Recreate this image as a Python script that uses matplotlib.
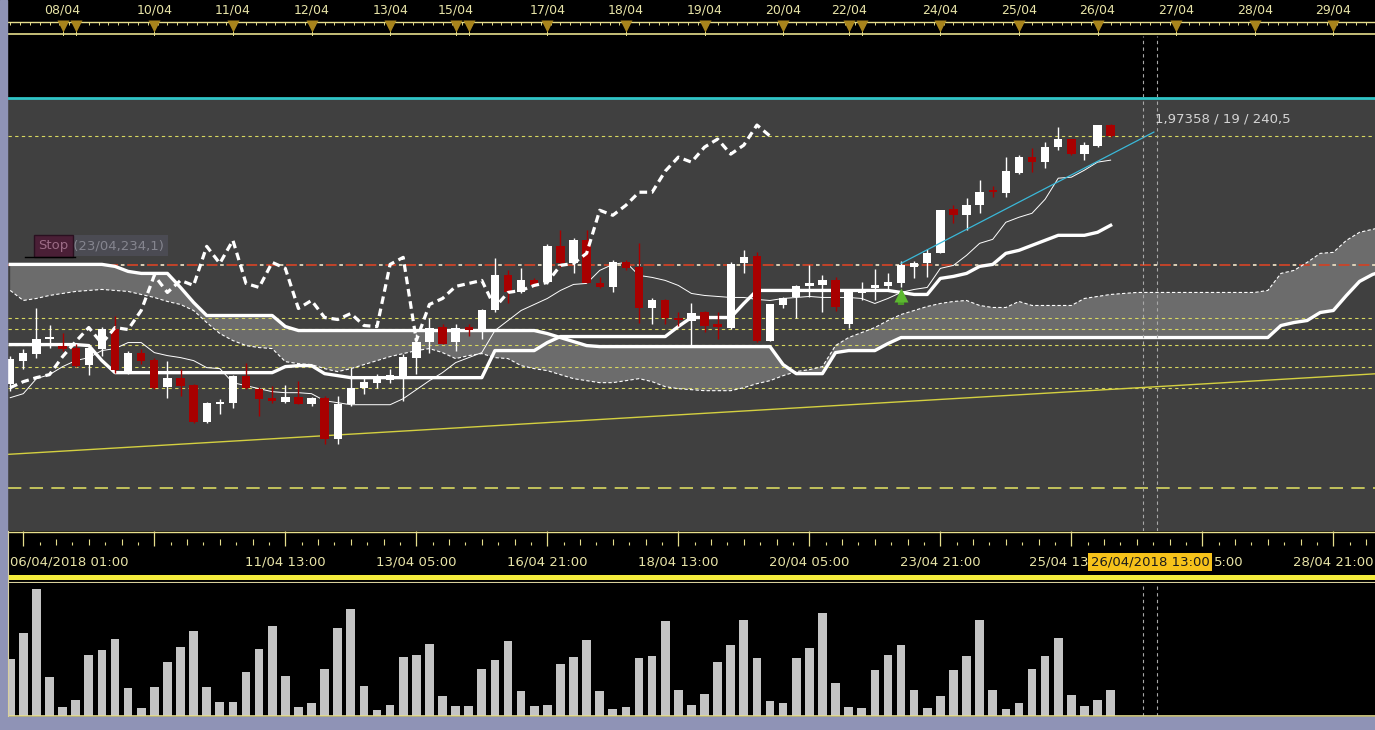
import matplotlib
matplotlib.use('Agg')
import numpy as np
import matplotlib.pyplot as plt
from matplotlib.patches import Rectangle
from matplotlib.lines import Line2D

# ---- data (4h candles, price units) ----
opens = [228.10, 229.25, 229.60, 230.35, 230.00, 229.90, 229.05, 229.85, 230.85, 228.75,
         229.65, 229.30, 227.95, 228.40, 228.05, 226.20, 227.10, 227.15, 228.50, 227.85,
         227.40, 227.20, 227.45, 227.10, 227.40, 225.35, 227.10, 227.90, 228.15, 228.30,
         228.50, 229.40, 230.20, 230.95, 230.20, 230.95, 230.75, 231.75, 233.50, 232.65,
         233.25, 233.15, 234.95, 234.10, 235.25, 233.10, 232.90, 234.15, 233.90, 231.85,
         232.25, 231.40, 231.25, 231.65, 231.10, 230.90, 234.10, 234.45, 230.25, 232.00,
         232.40, 232.95, 233.00, 233.25, 231.10, 232.60, 232.85, 232.95, 233.10, 233.90,
         234.10, 234.60, 236.80, 236.50, 237.00, 237.75, 237.60, 238.60, 239.40, 239.15,
         239.90, 240.30, 239.55, 239.95, 241.00]
highs = [229.50, 229.85, 231.85, 231.05, 230.65, 230.10, 230.05, 230.95, 231.50, 229.75,
         229.85, 229.40, 229.25, 228.85, 228.10, 227.20, 227.35, 228.55, 229.15, 227.95,
         228.00, 228.05, 228.25, 227.45, 227.50, 227.50, 228.90, 228.40, 228.60, 228.85,
         229.60, 230.60, 231.40, 231.10, 231.10, 231.10, 231.80, 234.35, 233.75, 233.85,
         233.35, 235.05, 235.75, 235.35, 235.75, 233.40, 234.25, 234.25, 235.10, 232.35,
         232.30, 231.65, 232.10, 231.70, 231.65, 234.15, 234.75, 234.65, 232.05, 232.40,
         233.00, 234.00, 233.50, 233.40, 232.65, 233.15, 233.80, 233.60, 234.20, 234.20,
         234.80, 236.75, 237.00, 237.35, 238.25, 237.95, 239.40, 239.50, 239.85, 240.15,
         240.90, 240.30, 240.15, 241.00, 241.05]
lows = [227.75, 228.85, 229.40, 229.90, 229.75, 228.95, 228.55, 229.50, 228.65, 228.60,
        229.10, 227.85, 227.40, 227.50, 226.15, 226.15, 226.60, 226.90, 227.85, 226.50,
        227.15, 227.15, 227.10, 227.00, 225.10, 225.10, 227.00, 227.60, 227.90, 228.15,
        227.25, 228.60, 229.65, 230.10, 229.75, 230.50, 230.35, 231.65, 232.10, 232.60,
        232.90, 233.05, 233.90, 233.60, 233.10, 232.85, 232.65, 233.75, 231.15, 231.10,
        231.10, 231.00, 229.95, 230.70, 230.35, 230.85, 233.60, 230.20, 230.25, 231.85,
        231.40, 232.40, 231.65, 231.70, 230.90, 232.25, 232.25, 232.75, 232.90, 233.35,
        233.40, 234.60, 236.10, 235.75, 236.60, 237.40, 237.40, 238.55, 238.65, 238.85,
        239.75, 239.50, 239.25, 239.90, 240.40]
closes = [229.35, 229.65, 230.35, 230.40, 229.85, 229.00, 229.90, 230.85, 228.80, 229.65,
          229.25, 227.90, 228.40, 228.00, 226.20, 227.15, 227.20, 228.50, 227.90, 227.35,
          227.25, 227.45, 227.10, 227.40, 225.35, 227.10, 227.90, 228.20, 228.40, 228.55,
          229.45, 230.20, 230.90, 230.10, 230.90, 230.80, 231.75, 233.50, 232.65, 233.25,
          233.00, 234.95, 234.10, 235.25, 233.10, 232.90, 234.15, 233.85, 231.85, 232.25,
          231.40, 231.30, 231.60, 231.00, 230.95, 234.05, 234.40, 230.25, 232.05, 232.35,
          232.95, 233.10, 233.25, 231.90, 232.65, 232.75, 233.00, 233.15, 234.00, 234.10,
          234.60, 236.75, 236.50, 237.00, 237.65, 237.65, 238.70, 239.40, 239.15, 239.90,
          240.30, 239.55, 240.00, 241.00, 240.45]
volume = [57, 83, 127, 39, 9, 16, 61, 66, 77, 28,
          8, 29, 54, 69, 85, 29, 14, 14, 44, 67,
          90, 40, 9, 13, 47, 88, 107, 30, 6, 11,
          59, 61, 72, 20, 10, 10, 47, 56, 75, 25,
          10, 11, 52, 59, 76, 25, 7, 9, 58, 60,
          95, 26, 11, 22, 54, 71, 96, 58, 15, 13,
          58, 68, 103, 33, 9, 8, 46, 61, 71, 26,
          8, 20, 46, 60, 96, 26, 7, 13, 47, 60,
          78, 21, 10, 16, 26]
tenkan = [227.40, 227.60, 228.35, 228.55, 228.95, 229.25, 229.40, 229.75, 229.85, 230.15,
          230.15, 229.65, 229.50, 229.40, 229.25, 228.90, 228.85, 228.15, 228.00, 227.85,
          227.70, 227.65, 227.65, 227.60, 227.25, 227.15, 227.05, 227.05, 227.05, 227.05,
          227.35, 227.80, 228.25, 228.65, 229.15, 229.40, 229.65, 230.75, 231.25, 231.75,
          232.05, 232.35, 232.75, 233.05, 233.10, 233.75, 234.05, 234.15, 233.50, 233.40,
          233.25, 233.00, 232.60, 232.50, 232.45, 232.40, 232.40, 232.30, 232.25, 232.35,
          232.40, 232.45, 232.40, 232.40, 232.40, 232.35, 232.10, 232.35, 232.65, 232.80,
          232.90, 233.85, 234.00, 234.50, 235.10, 235.30, 236.15, 236.40, 236.60, 237.30,
          238.35, 238.40, 238.75, 239.15, 239.25]
kijun = [230.05, 230.05, 230.05, 230.05, 230.05, 230.05, 230.00, 229.25, 228.65, 228.65,
         228.65, 228.65, 228.65, 228.65, 228.65, 228.65, 228.65, 228.65, 228.65, 228.65,
         228.65, 228.95, 229.00, 229.00, 228.60, 228.50, 228.40, 228.40, 228.40, 228.40,
         228.40, 228.40, 228.40, 228.40, 228.40, 228.40, 228.40, 229.75, 229.75, 229.75,
         229.75, 230.15, 230.45, 230.45, 230.45, 230.45, 230.45, 230.45, 230.45, 230.45,
         230.45, 230.95, 231.40, 231.40, 231.40, 231.40, 232.10, 232.75, 232.75, 232.75,
         232.75, 232.75, 232.75, 232.75, 232.75, 232.75, 232.75, 232.75, 232.65, 232.55,
         232.55, 233.35, 233.45, 233.60, 233.95, 234.05, 234.60, 234.75, 235.00, 235.25,
         235.50, 235.50, 235.50, 235.65, 236.00]
senkou_a = [232.75, 232.25, 232.35, 232.50, 232.60, 232.70, 232.75, 232.80, 232.75, 232.70,
            232.55, 232.40, 232.20, 232.05, 231.75, 231.15, 230.60, 230.25, 230.00, 229.90,
            229.85, 229.20, 229.10, 229.05, 228.85, 228.70, 228.85, 229.05, 229.25, 229.45,
            229.60, 229.75, 229.85, 229.65, 229.35, 229.50, 229.60, 229.40, 229.35, 229.00,
            228.85, 228.75, 228.55, 228.35, 228.25, 228.15, 228.15, 228.25, 228.35, 228.20,
            227.95, 227.85, 227.80, 227.75, 227.75, 227.75, 227.90, 228.10, 228.25, 228.50,
            228.70, 228.80, 228.95, 230.00, 230.40, 230.65, 230.90, 231.25, 231.55, 231.75,
            231.95, 232.10, 232.20, 232.25, 232.00, 231.90, 231.90, 232.20, 232.00, 232.00,
            232.00, 232.00, 232.35, 232.45, 232.55, 232.60, 232.65, 232.65, 232.65, 232.65,
            232.65, 232.65, 232.65, 232.65, 232.65, 232.65, 232.75, 233.60, 233.75, 234.15,
            234.60, 234.65, 235.25, 235.65, 235.80, 235.95]
senkou_b = [234.05, 234.05, 234.05, 234.05, 234.05, 234.05, 234.05, 234.05, 233.95, 233.70,
            233.60, 233.60, 233.60, 232.90, 232.15, 231.50, 231.50, 231.50, 231.50, 231.50,
            231.50, 230.95, 230.75, 230.75, 230.75, 230.75, 230.75, 230.75, 230.75, 230.75,
            230.75, 230.75, 230.75, 230.75, 230.75, 230.75, 230.75, 230.75, 230.75, 230.75,
            230.75, 230.60, 230.40, 230.20, 230.00, 229.95, 229.95, 229.95, 229.95, 229.95,
            229.95, 229.95, 229.95, 229.95, 229.95, 229.95, 229.95, 229.95, 229.95, 229.05,
            228.60, 228.60, 228.60, 229.65, 229.75, 229.75, 229.75, 230.10, 230.40, 230.40,
            230.40, 230.40, 230.40, 230.40, 230.40, 230.40, 230.40, 230.40, 230.40, 230.40,
            230.40, 230.40, 230.40, 230.40, 230.40, 230.40, 230.40, 230.40, 230.40, 230.40,
            230.40, 230.40, 230.40, 230.40, 230.40, 230.40, 230.40, 231.00, 231.15, 231.25,
            231.65, 231.75, 232.50, 233.20, 233.55, 233.75]
chikou_shift = 26
levels_dotted = [240.47, 231.37, 230.84, 230.05, 228.95, 227.87]
level_long_dash = 222.90
stop_level = 234.04
trend_yellow = [(0, 224.58), (100, 228.43)]
trend_cyan = [(68, 234.10), (87.3, 240.65)]
signal_idx, signal_price = 68, 232.3
cursor_idx = [86.47, 87.54]

top_dates = ['08/04', '10/04', '11/04', '12/04', '13/04', '15/04', '17/04', '18/04', '19/04',
             '20/04', '22/04', '24/04', '25/04', '26/04', '27/04', '28/04', '29/04']
top_date_idx = [4, 11, 17, 23, 29, 34, 41, 47, 53, 59, 64, 71, 77, 83, 89, 95, 101]
gap_idx = [5, 35, 65]
bottom_labels = ['11/04 13:00', '13/04 05:00', '16/04 21:00', '18/04 13:00', '20/04 05:00',
                 '23/04 21:00', '28/04 21:00']
bottom_label_idx = [21, 31, 41, 51, 61, 71, 101]
cursor_label = '26/04/2018 13:00'
cursor_label_idx = 87.0
# labels partly hidden behind the cursor box: only their visible part is shown
left_clipped, right_clipped = '25/04 13', '5:00'

# ---- layout ----
W, H = 1375, 730
XLIM = (-0.168, 104.18)
LBL = '#e8e4a8'
YEL = '#e6de8c'


def px_box(x0, y0, x1, y1):
    return [x0 / W, 1 - y1 / H, (x1 - x0) / W, (y1 - y0) / H]


def bare(a, fc='black'):
    a.set_facecolor(fc)
    a.set_xticks([])
    a.set_yticks([])
    for s in a.spines.values():
        s.set_visible(False)
    a.set_xlim(XLIM)


fig = plt.figure(figsize=(W / 100, H / 100), dpi=100, facecolor='black')
fig.patches.append(Rectangle((0, 0), 7 / W, 1, transform=fig.transFigure, color='#8f93b6', zorder=0))
fig.patches.append(Rectangle((0, 0), 1, 13 / H, transform=fig.transFigure, color='#8f93b6', zorder=0))

# top date strip
ax_top = fig.add_axes(px_box(8, 0, W, 36))
bare(ax_top)
ax_top.set_ylim(36, 0)
ax_top.axhline(22, color=YEL, lw=1)
ax_top.axhline(34, color=YEL, lw=1.2)
ax_top.vlines(np.arange(0, 105, 0.75), 22, 25, color=YEL, lw=0.7)
marks = top_date_idx + gap_idx
ax_top.vlines(marks, 22, 36, color=YEL, lw=0.7)
ax_top.plot(marks, [25.5] * len(marks), 'v', color='#a8841c', ms=8, mec='none')
for i, t in zip(top_date_idx, top_dates):
    ax_top.text(i, 10, t, color=LBL, ha='center', va='center', fontsize=9)

# black band with cursor lines
ax_band = fig.add_axes(px_box(8, 36, W, 97))
bare(ax_band)
ax_band.patch.set_alpha(0)
for cp in cursor_idx:
    ax_band.axvline(cp, color='#a8a8a8', lw=0.8, ls=(0, (3, 3)))

# price panel
ax = fig.add_axes(px_box(8, 98, W, 531))
bare(ax, '#404040')
ax.spines['top'].set_visible(True)
ax.spines['top'].set_color('#30c4c6')
ax.spines['top'].set_linewidth(2)
ax.set_ylim(220.75, 242.35)

idx = np.arange(len(closes))
ext = np.arange(len(senkou_a))
o, h, l, c = map(np.array, (opens, highs, lows, closes))

ax.fill_between(ext, senkou_a, senkou_b, color='#6c6c6c', lw=0, zorder=1)
for lv in levels_dotted:
    ax.axhline(lv, color='#d8d860', lw=0.8, ls=(0, (3, 3)), zorder=1.5)
ax.axhline(level_long_dash, color='#d8d860', lw=1.2, ls=(0, (8, 5)), zorder=1.5)
ax.axhline(stop_level, color='#cc4428', lw=1.3, ls=(0, (6, 5)), zorder=1.5)
ax.axhline(stop_level, color='#e8dcc0', lw=1.3, ls=(3.5, (2, 9)), zorder=1.5)
ax.axline(*trend_yellow, color='#d4d040', lw=1, zorder=1.6)

ax.plot(ext, senkou_a, color='white', lw=0.8, ls=(0, (3, 2)), zorder=2)
ax.plot(ext, senkou_b, color='white', lw=2.4, zorder=2.5)
ax.plot(idx, kijun, color='white', lw=2.4, zorder=2.6)
ax.plot(idx, tenkan, color='white', lw=0.7, zorder=2.7)

col = np.where(c >= o, '#ffffff', '#a80000')
ax.vlines(idx, l, h, colors=col, lw=1, zorder=3)
ax.bar(idx, np.maximum(np.abs(c - o), 0.1), 0.64, bottom=np.minimum(o, c), color=col, lw=0, zorder=3)

# lagging line: close drawn 26 bars back
ax.plot(idx[:-chikou_shift], c[chikou_shift:], color='white', lw=2.3, ls=(0, (2.4, 1.5)), zorder=4)

(cx0, cy0), (cx1, cy1) = trend_cyan
ax.plot([cx0, cx1], [cy0, cy1], color='#3ab8d8', lw=0.9, zorder=5)

ax.plot([signal_idx, signal_idx], [signal_price - 0.3, signal_price + 0.05], color='#4a9a28', lw=4.5,
        solid_capstyle='butt', zorder=5)
ax.plot([signal_idx], [signal_price + 0.2], marker='^', ms=10, color='#5cb830', mec='none', zorder=5)

for cp in cursor_idx:
    ax.axvline(cp, color='#a8a8a8', lw=0.8, ls=(0, (3, 3)), zorder=6)

ax.text(4.45, 234.98, 't(23/04,234,1)', color='#85858f', fontsize=9.5, ha='left', va='center',
        bbox=dict(boxstyle='square,pad=0.3', fc='#4b4b53', ec='none'), zorder=6)
ax.text(3.3, 234.98, 'Stop', color='#9c6c86', fontsize=9.5, ha='center', va='center',
        bbox=dict(boxstyle='square,pad=0.35', fc='#4a1f36', ec='#2a1020'), zorder=7)
ax.plot([1.13, 4.95], [234.42, 234.42], color='black', lw=1, zorder=7)
ax.text(87.4, 241.3, '1,97358 / 19 / 240,5', color='#d4d4d4', fontsize=9.5, ha='left', va='center', zorder=7)

# time strip
ax_t = fig.add_axes(px_box(8, 531, W, 583))
bare(ax_t)
ax_t.set_ylim(52, 0)
ax_t.axhline(1, color=YEL, lw=1)
ax_t.vlines(np.arange(1, 105, 10), 0, 15, color=YEL, lw=0.9)
minor = np.arange(1, 105, 1.25)
for k, m in enumerate(minor):
    if k % 8 == 0:
        continue
    ax_t.vlines(m, 8 if k % 2 == 0 else 11, 14, color=YEL, lw=0.8)
ax_t.text(-0.02, 31, '06/04/2018 01:00', color=LBL, fontsize=9.5, ha='left', va='center')
for i, t in zip(bottom_label_idx, bottom_labels):
    ax_t.text(i, 31, t, color=LBL, fontsize=9.5, ha='center', va='center')
ax_t.text(cursor_label_idx, 31, cursor_label, color='#1a1a1a', fontsize=9.5, ha='center', va='center',
          bbox=dict(boxstyle='square,pad=0.2', fc='#f6c21a', ec='none'), zorder=5)
ax_t.text(82.3, 31, left_clipped, color=LBL, fontsize=9.5, ha='right', va='center')
ax_t.text(91.85, 31, right_clipped, color=LBL, fontsize=9.5, ha='left', va='center')
ax_t.axhspan(44, 49, color='#f4ec3c', lw=0)
ax_t.axhline(51, color='#d8d09c', lw=0.8)

# volume panel
ax_v = fig.add_axes(px_box(8, 583, W, 716))
bare(ax_v)
ax_v.set_ylim(0, 133)
ax_v.spines['bottom'].set_visible(True)
ax_v.spines['bottom'].set_color(YEL)
ax_v.spines['bottom'].set_linewidth(1.2)
ax_v.bar(idx, volume, 0.66, color='#c4c4c4', lw=0)
for cp in cursor_idx:
    ax_v.axvline(cp, color='#a8a8a8', lw=0.8, ls=(0, (3, 3)))

fig.add_artist(Line2D([8 / W, 8 / W], [1 - 716 / H, 1 - 531 / H], transform=fig.transFigure,
                      color='#d8d0a0', lw=0.8))

fig.savefig('out.png', dpi=100, facecolor='black')
